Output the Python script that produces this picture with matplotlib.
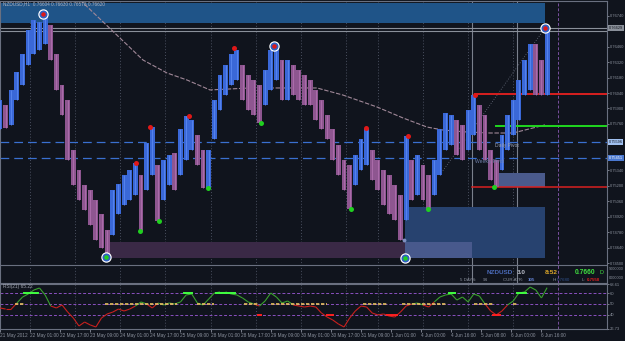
import numpy as np
import matplotlib
matplotlib.use('Agg')
from matplotlib import pyplot as plt
from matplotlib.patches import Rectangle
from matplotlib.collections import LineCollection

W, H = 625, 341
BG = '#10141d'
plt.rcParams['font.family'] = ['Liberation Sans', 'DejaVu Sans']

# NZDUSD H1, one sample every 3 bars (high / low)
step = 3
hi = [0.7598, 0.7593, 0.7607, 0.7623, 0.7639, 0.7661, 0.7670, 0.7668, 0.7676, 0.7666,
      0.7639, 0.7611, 0.7598, 0.7552, 0.7534, 0.7521, 0.7516, 0.7507, 0.7494, 0.7480,
      0.7516, 0.7522, 0.7530, 0.7534, 0.7541, 0.7530, 0.7559, 0.7573, 0.7539, 0.7543,
      0.7548, 0.7550, 0.7571, 0.7583, 0.7580, 0.7566, 0.7552, 0.7552, 0.7598, 0.7620,
      0.7629, 0.7639, 0.7643, 0.7629, 0.7620, 0.7616, 0.7611, 0.7625, 0.7643, 0.7647,
      0.7634, 0.7634, 0.7629, 0.7625, 0.7620, 0.7616, 0.7607, 0.7598, 0.7584, 0.7571,
      0.7557, 0.7543, 0.7539, 0.7548, 0.7562, 0.7572, 0.7552, 0.7543, 0.7534, 0.7530,
      0.7521, 0.7512, 0.7565, 0.7543, 0.7548, 0.7539, 0.7530, 0.7543, 0.7571, 0.7586,
      0.7584, 0.7580, 0.7575, 0.7589, 0.7602, 0.7593, 0.7584, 0.7552, 0.7543, 0.7566,
      0.7584, 0.7598, 0.7616, 0.7634, 0.7648, 0.7648, 0.7634, 0.7663]
lo = [0.7571, 0.7572, 0.7575, 0.7598, 0.7611, 0.7629, 0.7639, 0.7643, 0.7648, 0.7634,
      0.7607, 0.7584, 0.7543, 0.7521, 0.7507, 0.7498, 0.7484, 0.7471, 0.7464, 0.7456,
      0.7475, 0.7494, 0.7503, 0.7507, 0.7512, 0.7479, 0.7516, 0.7530, 0.7488, 0.7507,
      0.7521, 0.7516, 0.7530, 0.7543, 0.7552, 0.7539, 0.7518, 0.7518, 0.7562, 0.7589,
      0.7602, 0.7611, 0.7616, 0.7598, 0.7589, 0.7584, 0.7577, 0.7593, 0.7607, 0.7616,
      0.7598, 0.7598, 0.7602, 0.7598, 0.7593, 0.7593, 0.7580, 0.7571, 0.7562, 0.7543,
      0.7530, 0.7516, 0.7499, 0.7521, 0.7534, 0.7539, 0.7525, 0.7516, 0.7503, 0.7494,
      0.7489, 0.7471, 0.7489, 0.7507, 0.7512, 0.7507, 0.7499, 0.7512, 0.7530, 0.7552,
      0.7557, 0.7548, 0.7543, 0.7552, 0.7566, 0.7552, 0.7543, 0.7525, 0.7519, 0.7534,
      0.7552, 0.7566, 0.7580, 0.7602, 0.7607, 0.7602, 0.7602, 0.7602]

# RSI(21), same sampling
rsi = [46.3, 45.3, 45.3, 50.9, 56.5, 59.3, 63.0, 64.9, 58.4, 48.1,
       46.3, 49.1, 42.5, 37.0, 29.5, 33.2, 30.5, 28.6, 37.0, 40.7,
       42.5, 45.3, 43.5, 45.3, 48.1, 51.9, 50.0, 46.3, 50.9, 49.1,
       50.9, 50.0, 51.9, 58.4, 59.3, 50.9, 49.1, 54.6, 60.2, 61.2,
       61.2, 59.3, 58.4, 55.6, 51.9, 50.0, 48.1, 52.8, 60.2, 56.5,
       50.9, 52.8, 49.1, 48.1, 47.2, 48.1, 47.2, 41.6, 37.9, 35.1,
       31.4, 28.6, 37.0, 43.5, 48.1, 47.2, 41.6, 39.8, 40.7, 38.8,
       37.9, 42.5, 48.1, 50.0, 50.9, 49.1, 47.2, 51.9, 56.5, 58.4,
       59.3, 53.7, 56.5, 51.9, 59.3, 57.4, 50.0, 43.5, 39.8, 43.5,
       49.1, 52.8, 60.2, 61.2, 65.8, 63.0, 55.6, 65.2]

# fractals (bar index, price)
frac_up_x = [72.3, 79.8, 100.5, 124.5, 194.7, 217.0, 252.7]
frac_up_y = [0.75406, 0.75732, 0.75832, 0.76448, 0.75723, 0.75651, 0.76022]
frac_dn_x = [74.5, 84.6, 110.6, 138.8, 186.7, 227.7, 262.8]
frac_dn_y = [0.74790, 0.74881, 0.75180, 0.75769, 0.74990, 0.74990, 0.75189]
swing_hi_x = [22.9, 145.7, 289.9]
swing_hi_y = [0.76756, 0.76466, 0.76629]
swing_lo_x = [56.4, 215.4]
swing_lo_y = [0.74555, 0.74546]

# moving average
ma_x = [42.6, 76.1, 88.8, 99.5, 111.7, 133.0, 168.6, 182.4, 200.5, 214.4, 227.1, 235.6, 248.4, 260.6, 272.9, 289.9]
ma_y = [0.76883, 0.76339, 0.76222, 0.76158, 0.76068, 0.76086, 0.76086, 0.76022, 0.75914, 0.75814,
        0.75732, 0.75705, 0.75687, 0.75678, 0.75678, 0.75751]

# levels
daily_pivot = 0.75596
weekly_pivot = 0.75451
bid, ask = 0.76629, 0.76602
res_level, res_start = 0.76031, 252.7
mid_level, mid_start = 0.75741, 263.8
sup_level, sup_start = 0.75189, 251.0

# zones: (x0, x1, y0, y1)
zone_top = (0, 290, 0.76675, 0.76856)
zone_pink = (56.4, 215.4, 0.74546, 0.74691)
zone_blue = (215.4, 290, 0.74546, 0.75008)
zone_blue_light = (215.4, 251, 0.74546, 0.74691)
zone_small = (263.3, 290, 0.75189, 0.75316)

# RSI signal marks (bar spans)
rsi_mid_spans = [(8, 13), (56, 94), (105, 114), (130, 137), (144, 174), (193, 206), (214, 238), (252, 262), (273, 275)]
rsi_hi_spans = [(13, 20), (98, 102), (115, 125), (239, 242), (275, 280)]
rsi_lo_spans = [(137, 139), (174, 177), (206, 211), (262, 266)]

time_labels = ['21 May 2012', '22 May 01:00', '22 May 17:00', '23 May 09:00', '24 May 01:00',
               '24 May 17:00', '25 May 09:00', '28 May 01:00', '28 May 17:00', '29 May 09:00',
               '30 May 01:00', '30 May 17:00', '31 May 09:00', '1 Jun 01:00', '4 Jun 00:00',
               '4 Jun 16:00', '5 Jun 08:00', '6 Jun 00:00', '6 Jun 16:00']
price_ticks = [0.7674, 0.7646, 0.7632, 0.7618, 0.7604, 0.7590, 0.7576, 0.7534,
               0.7520, 0.7506, 0.7492, 0.7478, 0.7464, 0.7450]

fig = plt.figure(figsize=(W / 100, H / 100), dpi=100, facecolor=BG)

def px_axes(x0, y0, x1, y1):
    return fig.add_axes([x0 / W, 1 - y1 / H, (x1 - x0) / W, (y1 - y0) / H])

ax = px_axes(0, 1, 607, 283)
ax2 = px_axes(0, 284, 607, 329)
xmax = 607 / 1.88
for a in (ax, ax2):
    a.set_facecolor(BG)
    a.set_xlim(0, xmax)
    for s in a.spines.values():
        s.set_color('#6a7080')
        s.set_linewidth(0.8)
ax.set_ylim(0.76883 - 0.0000906 * 283, 0.76883 - 0.0000906 * 1)
ax2.set_ylim(26.73, 68.61)

# grid
grid_x = [16, 40, 64, 88, 112, 136, 160, 184, 201, 225, 249, 273]
for a in (ax, ax2):
    for gx in grid_x:
        a.axvline(gx, color='#4a5060', lw=0.7, ls=(0, (1, 2)), zorder=0)
    a.axvline(297, color='#7a50a0', lw=0.7, ls=(0, (3, 2)), zorder=0)
for gx in [251, 275]:
    ax.axvline(gx, color='#7a808c', lw=0.8, zorder=1)

# zones
def zone(a, z, color, **kw):
    a.add_patch(Rectangle((z[0], z[2]), z[1] - z[0], z[3] - z[2], facecolor=color, lw=0, zorder=1, **kw))

zone(ax, zone_top, '#1f5488')
zone(ax, zone_pink, '#3a2946')
zone(ax, zone_blue, '#27426f')
zone(ax, zone_blue_light, '#48598c')
zone(ax, zone_small, '#4a5a8c')

# horizontal lines
ax.axhline(bid, color='#8a909a', lw=0.8, zorder=2)
ax.axhline(ask, color='#8a909a', lw=0.8, zorder=2)
ax.axhline(0.74482, color='#6a7080', lw=0.8, zorder=2)
ax.axhline(daily_pivot, color='#3a70d0', lw=0.9, ls=(0, (7, 4)), zorder=2)
ax.axhline(weekly_pivot, color='#3a70d0', lw=0.9, ls=(0, (7, 4)), zorder=2)
ax.plot([res_start, xmax], [res_level] * 2, color='#d82020', lw=1.4, zorder=3)
ax.plot([mid_start, xmax], [mid_level] * 2, color='#20d820', lw=1.4, zorder=3)
ax.plot([sup_start, xmax], [sup_level] * 2, color='#d82020', lw=1.1, zorder=3)

# MA
ax.plot(ma_x, ma_y, color='#a08898', lw=0.8, ls=(0, (4, 1.5)), zorder=2)
ax.plot([234, 289.9], [0.75298, 0.76629], color='#6a7080', lw=0.6, ls=(0, (1, 2)), zorder=2)

# price bars
hi_a = np.array(hi)
lo_a = np.array(lo)
xs = np.arange(len(hi)) * step
mid = (hi_a + lo_a) / 2
up = np.r_[True, mid[1:] >= mid[:-1]]
cols = np.where(up, '#3a68d8', '#8e5690')
ax.bar(xs, hi_a - lo_a, bottom=lo_a, width=2.6, color=cols, lw=0, zorder=4)
ax.vlines(xs, lo_a, hi_a, colors=np.where(up, '#5a88f0', '#b070b0'), lw=0.6, zorder=4)

# markers
ax.plot(frac_up_x, frac_up_y, 'o', color='#e01818', ms=3.6, mew=0, zorder=6)
ax.plot(frac_dn_x, frac_dn_y, 'o', color='#20d020', ms=3.6, mew=0, zorder=6)
for xx, yy, c in [(swing_hi_x, swing_hi_y, '#e01818'), (swing_lo_x, swing_lo_y, '#20d020')]:
    ax.plot(xx, yy, 'o', color='white', ms=7.5, mew=0, zorder=6)
    ax.plot(xx, yy, 'o', color='#3060c0', ms=5.8, mew=0, zorder=6)
    ax.plot(xx, yy, 'o', color=c, ms=3.2, mew=0, zorder=6)
ax.plot([214.9], [0.74709], 'o', color='#8090c0', ms=2.8, mew=0, zorder=6)

# labels in chart
ax.text(263.3, 0.75569, 'Daily Pivot', color='#9aa0b0', fontsize=3.6, va='center', zorder=7)
ax.text(252.7, 0.75424, 'Weekly Pivot', color='#7080a8', fontsize=3.6, va='center', zorder=7)
ax.text(1.5, 0.76845, 'NZDUSD,H1  0.76604 0.76630 0.76578 0.76620', color='#b0b4c0',
        fontsize=3.4, va='center', zorder=7)

# right price axis
ax.yaxis.tick_right()
ax.set_yticks(price_ticks)
ax.set_yticklabels(['%.5f' % p for p in price_ticks])
ax.tick_params(axis='y', colors='#8a909c', labelsize=2.9, length=1.5, pad=0.5, width=0.6)
ax.set_xticks([])
for yv, fc, tc in [(bid, '#8a909a', '#10141d'), (daily_pivot, '#a0c0f0', '#10141d'), (weekly_pivot, '#4a78d0', '#ffffff')]:
    ax.annotate('%.5f' % yv, xy=(1.0, yv), xycoords=('axes fraction', 'data'), xytext=(1.2, 0),
                textcoords='offset points', fontsize=2.8, color=tc, va='center',
                bbox=dict(boxstyle='square,pad=0.2', fc=fc, ec='none'), annotation_clip=False)

# info panel
def ft(x, y, s, c, fs, bold=False):
    fig.text(x / W, 1 - y / H, s, color=c, fontsize=fs, va='center',
             fontweight='bold' if bold else 'normal')

ft(487, 272, 'NZDUSD', '#4a6ab8', 4.6, True)
ft(517, 272, '3.0', '#b8bcc8', 4.6, True)
ft(545, 272, '8:52', '#e0a828', 4.6, True)
ft(575, 272, '0.7660', '#40e040', 4.8, True)
ft(600, 272, 'D', '#40e040', 4.0)
ft(460, 280, '5 DAYS:', '#8a909c', 3.2)
ft(483, 280, '94', '#8a909c', 3.2)
ft(503, 280, 'CUR ATR:', '#8a909c', 3.2)
ft(528, 280, '105', '#6080d0', 3.2, True)
ft(553, 280, 'H:', '#8a909c', 3.2)
ft(557, 280, '0.7680', '#30508a', 3.2)
ft(582, 280, 'L:', '#8a909c', 3.2)
ft(587, 280, '0.7558', '#e02020', 3.2, True)
ft(609, 269, '9000000', '#8a909c', 2.8)
ft(609, 278, '0000000', '#8a909c', 2.8)

# RSI panel
rsi_a = np.array(rsi)
pts = np.column_stack([xs, rsi_a])
segs = np.stack([pts[:-1], pts[1:]], axis=1)
seg_cols = np.where((rsi_a[:-1] + rsi_a[1:]) / 2 >= 50, '#3aa12e', '#c8201e')
ax2.add_collection(LineCollection(segs, colors=seg_cols, lw=0.8, zorder=4))
for lv in (40, 50, 60):
    ax2.axhline(lv, color='#8a50c0', lw=0.7, ls=(0, (3, 2)), zorder=2)
for a0, a1 in rsi_mid_spans:
    ax2.plot([a0, a1], [50, 50], color='#e8c060', lw=1.2, ls=(0, (2, 1)), zorder=5)
for a0, a1 in rsi_hi_spans:
    ax2.plot([a0, a1], [60, 60], color='#40ff40', lw=1.4, zorder=5)
for a0, a1 in rsi_lo_spans:
    ax2.plot([a0, a1], [40, 40], color='#ff2020', lw=1.4, zorder=5)
ax2.text(1.5, 66.5, 'RSI(21) 65.22', color='#a0a4b0', fontsize=3.4, va='center')

ax2.yaxis.tick_right()
ax2.set_yticks([26.73, 40, 50, 60, 68.61])
ax2.set_yticklabels(['26.73', '40', '50', '60', '68.61'])
ax2.tick_params(axis='y', colors='#8a909c', labelsize=3.0, length=1.5, pad=0.5, width=0.6)
ax2.set_xticks(np.arange(len(time_labels)) * 16)
ax2.set_xticklabels(time_labels, ha='left')
ax2.tick_params(axis='x', colors='#8a909c', labelsize=3.4, length=2, pad=1, width=0.6)

fig.savefig('out.png', dpi=100, facecolor=BG)
